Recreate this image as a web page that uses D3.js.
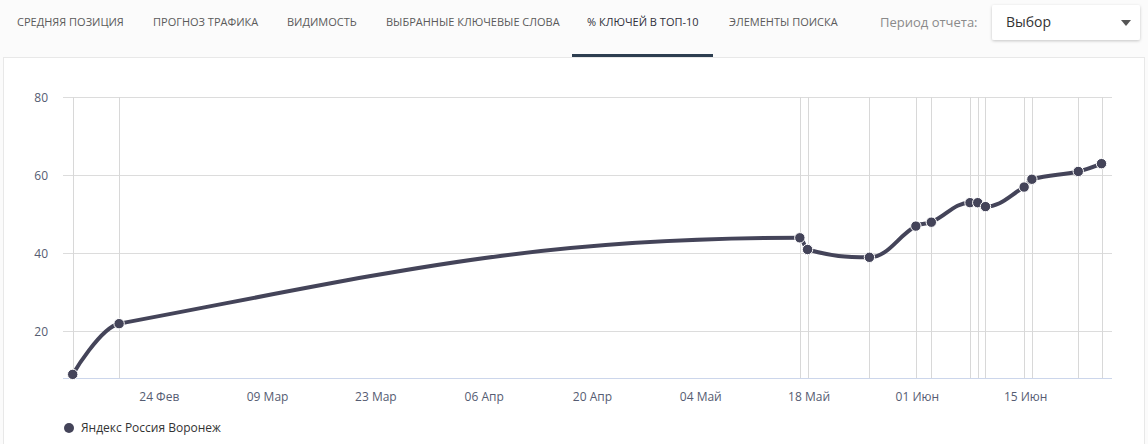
<!DOCTYPE html>
<html><head><meta charset="utf-8">
<script src="https://cdn.jsdelivr.net/npm/d3@7"></script>
<style>
html,body{margin:0;padding:0;background:#fbfbfb;}
svg{display:block;font-family:"Open Sans",sans-serif;}
</style></head>
<body><svg id="c" width="1148" height="444"></svg>
<script>
const tabs = ["СРЕДНЯЯ ПОЗИЦИЯ","ПРОГНОЗ ТРАФИКА","ВИДИМОСТЬ","ВЫБРАННЫЕ КЛЮЧЕВЫЕ СЛОВА","% КЛЮЧЕЙ В ТОП-10","ЭЛЕМЕНТЫ ПОИСКА"];
const activeTab = "% КЛЮЧЕЙ В ТОП-10";
const periodLabel = "Период отчета:";
const selectLabel = "Выбор";
const seriesName = "Яндекс Россия Воронеж";
const dates = ["2020-02-13","2020-02-19","2020-05-17","2020-05-18","2020-05-26","2020-06-01","2020-06-03","2020-06-08","2020-06-09","2020-06-10","2020-06-15","2020-06-16","2020-06-22","2020-06-25"];
const values = [9,22,44,41,39,47,48,53,53,52,57,59,61,63];
const xTickDates = ["2020-02-24","2020-03-09","2020-03-23","2020-04-06","2020-04-20","2020-05-04","2020-05-18","2020-06-01","2020-06-15"];
const xTickLabels = ["24 Фев","09 Мар","23 Мар","06 Апр","20 Апр","04 Май","18 Май","01 Июн","15 Июн"];
const yTicks = [20,40,60,80];
const yDomain = [8,80];

const parse = d3.timeParse("%Y-%m-%d");
const data = dates.map((d,i)=>({date:parse(d), value:values[i]}));
const svg = d3.select("#c");
const lineColor = "#444459";
const labelColor = "#555c72";

// header
svg.append("rect").attr("x",0).attr("y",0).attr("width",1148).attr("height",57).attr("fill","#fbfbfb");
const tabX = [17,153,287,386,587,729];
svg.selectAll("text.tab").data(tabs).join("text").attr("class","tab")
  .attr("x",(d,i)=>tabX[i]).attr("y",26)
  .attr("font-size",11).attr("fill",d=>d===activeTab?"#2f2f3a":"#5a5a5a")
  .text(d=>d);
svg.append("rect").attr("x",572).attr("y",54).attr("width",141).attr("height",3).attr("fill","#2d3e50");
svg.append("text").attr("x",880).attr("y",27).attr("font-size",13).attr("fill","#8a8a8a").text(periodLabel);
const defs = svg.append("defs");
const f = defs.append("filter").attr("id","sh").attr("x","-10%").attr("y","-30%").attr("width","120%").attr("height","160%");
f.append("feDropShadow").attr("dx",0).attr("dy",1).attr("stdDeviation",1.5).attr("flood-color","#000").attr("flood-opacity",0.22);
svg.append("rect").attr("x",992).attr("y",5).attr("width",148).attr("height",35).attr("rx",2).attr("fill","#fff").attr("filter","url(#sh)");
svg.append("text").attr("x",1006).attr("y",27).attr("font-size",14).attr("fill","#333").text(selectLabel);
svg.append("path").attr("d","M1121,20L1131,20L1126,26Z").attr("fill","#555");

// panel
svg.append("rect").attr("x",3.5).attr("y",57.5).attr("width",1141).attr("height",400).attr("fill","#fff").attr("stroke","#e8e8e8");

// scales
const x = d3.scaleTime().domain(d3.extent(data,d=>d.date)).range([72.7,1101.5]);
const y = d3.scaleLinear().domain(yDomain).range([378.3,97.3]);
const plotL = 63, plotR = 1112;

// horizontal grid
const gy = svg.append("g").attr("transform",`translate(${plotL},0)`)
  .call(d3.axisLeft(y).tickValues(yTicks).tickSize(-(plotR-plotL)).tickFormat(""));
gy.select(".domain").remove();
gy.selectAll("line").attr("stroke","#dcdcdc").attr("shape-rendering","crispEdges");
// y labels
const yl = svg.append("g").attr("transform",`translate(48,0)`)
  .call(d3.axisLeft(y).tickValues(yTicks).tickSize(0).tickPadding(0));
yl.select(".domain").remove();
yl.selectAll("text").attr("font-family","Open Sans").attr("font-size",12).attr("fill",labelColor);

// vertical grid at each data point
const gx = svg.append("g").attr("transform",`translate(0,${y(yDomain[0])})`)
  .call(d3.axisBottom(x).tickValues(data.map(d=>d.date)).tickSize(-(y(yDomain[0])-y(80))).tickFormat(""));
gx.select(".domain").remove();
gx.selectAll("line").attr("stroke","#d8d8d8").attr("shape-rendering","crispEdges");

// baseline
svg.append("line").attr("x1",plotL).attr("x2",plotR).attr("y1",y(yDomain[0])).attr("y2",y(yDomain[0]))
  .attr("stroke","#ccd6eb").attr("shape-rendering","crispEdges");

// x labels
const xa = svg.append("g").attr("transform",`translate(1,${y(yDomain[0])})`)
  .call(d3.axisBottom(x).tickValues(xTickDates.map(parse)).tickSize(0).tickPadding(14)
    .tickFormat((d,i)=>xTickLabels[i]));
xa.select(".domain").remove();
xa.selectAll("text").attr("font-family","Open Sans").attr("font-size",12).attr("fill",labelColor);

// Highcharts-like spline curve
function HCSpline(ctx){ this._context = ctx; }
HCSpline.prototype = {
  areaStart(){}, areaEnd(){},
  lineStart(){ this._pts = []; },
  point(px,py){ this._pts.push([+px,+py]); },
  lineEnd(){
    const p=this._pts, c=this._context, s=1.5, dn=s+1;
    if(!p.length) return;
    c.moveTo(p[0][0],p[0][1]);
    let prevR=null;
    for(let i=1;i<p.length;i++){
      const X=p[i][0], Y=p[i][1], last=p[i-1], next=p[i+1];
      let lx=X, ly=Y, r=null;
      if(next){
        lx=(s*X+last[0])/dn; ly=(s*Y+last[1])/dn;
        let rx=(s*X+next[0])/dn, ry=(s*Y+next[1])/dn, corr=0;
        if(rx!==lx) corr=((ry-ly)*(rx-X))/(rx-lx)+Y-ry;
        ly+=corr; ry+=corr;
        if(ly>last[1]&&ly>Y){ly=Math.max(last[1],Y); ry=2*Y-ly;}
        else if(ly<last[1]&&ly<Y){ly=Math.min(last[1],Y); ry=2*Y-ly;}
        if(ry>next[1]&&ry>Y){ry=Math.max(next[1],Y); ly=2*Y-ry;}
        else if(ry<next[1]&&ry<Y){ry=Math.min(next[1],Y); ly=2*Y-ry;}
        r=[rx,ry];
      }
      const c1 = prevR || last;
      c.bezierCurveTo(c1[0],c1[1],lx,ly,X,Y);
      prevR=r;
    }
  }
};
const curveHC = ctx => new HCSpline(ctx);

const line = d3.line().x(d=>x(d.date)).y(d=>y(d.value)).curve(curveHC);
svg.append("path").datum(data).attr("d",line).attr("fill","none")
  .attr("stroke",lineColor).attr("stroke-width",4).attr("stroke-linejoin","round").attr("stroke-linecap","round");
svg.selectAll("circle.pt").data(data).join("circle").attr("class","pt")
  .attr("cx",d=>x(d.date)).attr("cy",d=>y(d.value)).attr("r",5.2)
  .attr("fill",lineColor).attr("stroke","#fff").attr("stroke-width",1);

// legend
svg.append("circle").attr("cx",69).attr("cy",428).attr("r",5).attr("fill",lineColor);
svg.append("text").attr("x",81).attr("y",432).attr("font-size",12).attr("fill","#333").text(seriesName);
</script></body></html>
